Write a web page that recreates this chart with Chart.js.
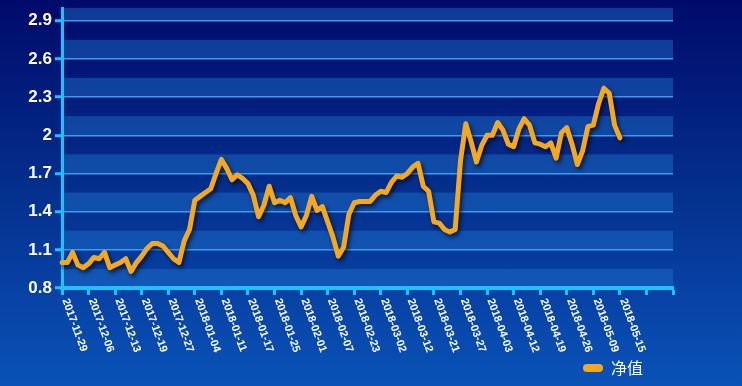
<!DOCTYPE html>
<html>
<head>
<meta charset="utf-8">
<script src="https://cdn.jsdelivr.net/npm/chart.js@4.4.1/dist/chart.umd.min.js"></script>
<style>
html, body { margin: 0; padding: 0; }
body {
    width: 742px; height: 386px; overflow: hidden;
    background: linear-gradient(180deg, #000a6a 0%, #04308e 50%, #0a52b8 100%);
}
</style>
</head>
<body>
<canvas id="navChart" width="742" height="386"></canvas>
<script>
// 净值走势 - dates shown every 5 points on the x axis
const tickLabels = ['2017-11-29', '2017-12-06', '2017-12-13', '2017-12-19', '2017-12-27', '2018-01-04',
    '2018-01-11', '2018-01-17', '2018-01-25', '2018-02-01', '2018-02-07', '2018-02-23', '2018-03-02',
    '2018-03-12', '2018-03-21', '2018-03-27', '2018-04-03', '2018-04-12', '2018-04-19', '2018-04-26',
    '2018-05-09', '2018-05-15'];

const navValues = [
    1.00, 1.00, 1.08, 0.98, 0.96, 0.99, 1.04, 1.03, 1.08, 0.96,
    0.98, 1.00, 1.03, 0.93, 1.00, 1.05, 1.11, 1.15, 1.15, 1.13,
    1.08, 1.03, 1.00, 1.17, 1.26, 1.49, 1.52, 1.55, 1.58, 1.70,
    1.81, 1.74, 1.65, 1.69, 1.66, 1.62, 1.53, 1.36, 1.45, 1.60,
    1.47, 1.49, 1.47, 1.51, 1.37, 1.28, 1.37, 1.52, 1.41, 1.44,
    1.32, 1.20, 1.05, 1.12, 1.38, 1.47, 1.48, 1.48, 1.48, 1.53,
    1.56, 1.55, 1.63, 1.68, 1.67, 1.70, 1.75, 1.78, 1.60, 1.56,
    1.32, 1.31, 1.26, 1.24, 1.26, 1.80, 2.09, 1.95, 1.79, 1.92,
    2.00, 2.00, 2.10, 2.04, 1.93, 1.91, 2.05, 2.13, 2.08, 1.94,
    1.93, 1.91, 1.94, 1.82, 2.02, 2.06, 1.93, 1.77, 1.88, 2.07,
    2.08, 2.25, 2.37, 2.33, 2.08, 1.98
];

const yTickLabels = ['0.8', '1.1', '1.4', '1.7', '2', '2.3', '2.6', '2.9'];
const yMajor = yTickLabels.map(Number);
const yHalf = 0.15;
const yMin = 0.8, yMax = 3.0;
const emptySlots = 10;   // axis keeps going past the last point

const lineColor = '#f5a81e';
const axisColor = '#19c3ff';
const gridColor = '#3d9cf2';

const categories = [];
for (let i = 0; i < navValues.length + emptySlots; i++) {
    categories.push(i % 5 === 0 && tickLabels[i / 5] ? tickLabels[i / 5] : '');
}

function isMajor(v) {
    return yMajor.findIndex(m => Math.abs(m - v) < 1e-6);
}

// light stripes between each labelled value and the next half step
const bandsPlugin = {
    id: 'bands',
    beforeDraw(chart) {
        const { ctx, chartArea: a, scales: { y } } = chart;
        ctx.save();
        ctx.fillStyle = 'rgba(30,115,205,0.45)';
        yMajor.forEach(m => {
            const top = y.getPixelForValue(Math.min(m + yHalf, yMax));
            const bottom = y.getPixelForValue(m);
            ctx.fillRect(a.left, top, a.right - a.left, bottom - top);
        });
        ctx.restore();
    }
};

const shadowPlugin = {
    id: 'lineShadow',
    beforeDatasetsDraw(chart) {
        const ctx = chart.ctx;
        ctx.save();
        ctx.shadowColor = 'rgba(0,0,20,0.65)';
        ctx.shadowBlur = 4;
        ctx.shadowOffsetX = 2;
        ctx.shadowOffsetY = 3;
    },
    afterDatasetsDraw(chart) {
        chart.ctx.restore();
    }
};

// slanted date labels (text runs downward from the tick)
const slantLabels = {
    id: 'slantLabels',
    afterDraw(chart) {
        const { ctx, scales: { x } } = chart;
        ctx.save();
        ctx.fillStyle = '#ffffff';
        ctx.font = 'bold 11px "Liberation Sans", Arial, sans-serif';
        ctx.textAlign = 'left';
        ctx.textBaseline = 'middle';
        tickLabels.forEach((lab, k) => {
            const px = x.getPixelForValue(k * 5);
            ctx.save();
            ctx.translate(px + 3, x.top + 11);
            ctx.rotate(70 * Math.PI / 180);
            ctx.fillText(lab, 0, 0);
            ctx.restore();
        });
        ctx.restore();
    }
};

const legendShift = {
    id: 'legendShift',
    afterLayout(chart) {
        chart.legend.left -= 22;
        chart.legend.right -= 22;
    }
};

const ctx = document.getElementById('navChart').getContext('2d');
const navChart = new Chart(ctx, {
    type: 'line',
    data: {
        labels: categories,
        datasets: [{
            label: '净值',
            data: navValues,
            borderColor: lineColor,
            backgroundColor: lineColor,
            borderWidth: 5,
            pointRadius: 0,
            tension: 0,
            borderJoinStyle: 'round',
            borderCapStyle: 'round',
            fill: false
        }]
    },
    options: {
        responsive: false,
        animation: false,
        layout: { padding: { top: 8, right: 69, left: 0, bottom: 0 } },
        plugins: {
            tooltip: { enabled: false },
            legend: {
                position: 'bottom',
                align: 'end',
                labels: {
                    color: '#ffffff',
                    font: { family: '"Noto Sans CJK SC", sans-serif', size: 16 },
                    boxWidth: 20,
                    boxHeight: 8,
                    padding: 8,
                    useBorderRadius: true,
                    borderRadius: 4,
                    generateLabels: chart => Chart.defaults.plugins.legend.labels.generateLabels(chart)
                        .map(l => Object.assign(l, { lineWidth: 0, fillStyle: lineColor, strokeStyle: lineColor }))
                }
            }
        },
        scales: {
            x: {
                type: 'category',
                offset: false,
                afterFit: s => {
                    s.height = 98 - (s.chart.legend ? s.chart.legend.height : 0);
                    s.paddingLeft = 0;
                    s.paddingRight = 0;
                },
                ticks: { display: false, autoSkip: false },
                grid: {
                    drawOnChartArea: false,
                    tickLength: 7,
                    tickWidth: 3,
                    tickColor: c => c.index % 5 === 0 ? axisColor : 'rgba(0,0,0,0)'
                },
                border: { color: axisColor, width: 4 }
            },
            y: {
                min: yMin,
                max: yMax,
                afterFit: s => {
                    s.width = 62;
                    s.paddingTop = 0;
                    s.paddingBottom = 0;
                },
                afterBuildTicks: s => {
                    const vals = [];
                    yMajor.forEach(m => {
                        vals.push(m);
                        if (m + yHalf < yMax) vals.push(m + yHalf);
                    });
                    vals.push(yMax);
                    s.ticks = vals.map(v => ({ value: v }));
                },
                ticks: {
                    color: '#ffffff',
                    padding: 3,
                    font: { family: '"Liberation Sans", Arial, sans-serif', size: 17, weight: 'bold' },
                    callback: v => {
                        const k = isMajor(v);
                        return k >= 0 ? yTickLabels[k] : '';
                    }
                },
                grid: {
                    color: gridColor,
                    lineWidth: 1.5,
                    tickLength: 7,
                    tickWidth: 3,
                    tickColor: c => isMajor(c.tick.value) >= 0 ? axisColor : 'rgba(0,0,0,0)'
                },
                border: { color: axisColor, width: 3 }
            }
        }
    },
    plugins: [bandsPlugin, shadowPlugin, slantLabels, legendShift]
});
</script>
</body>
</html>
